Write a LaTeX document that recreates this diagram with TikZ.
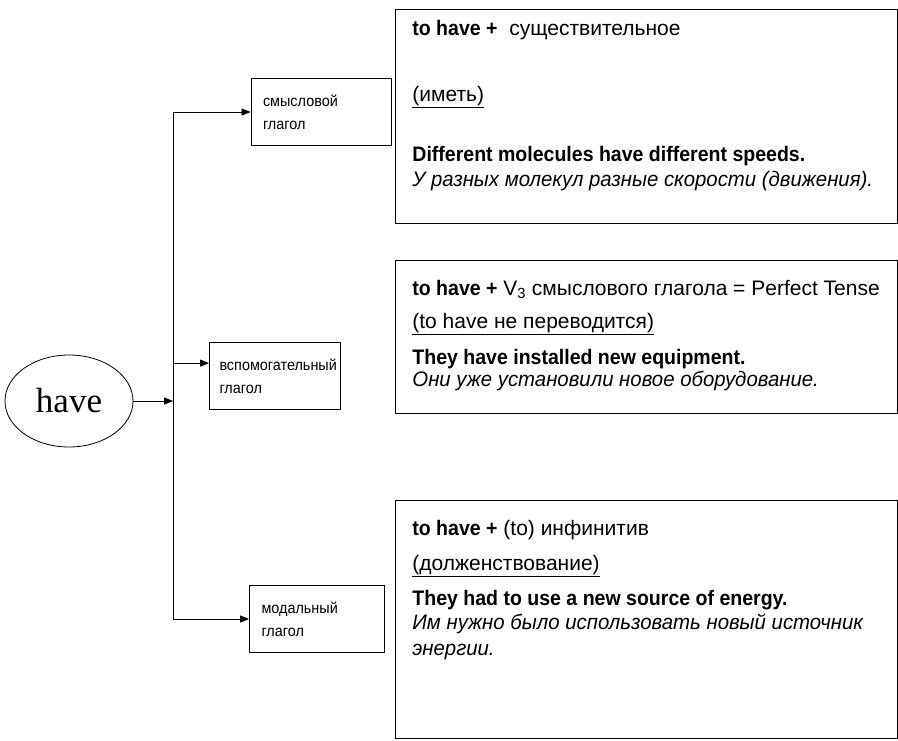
\documentclass[tikz,border=0pt]{standalone}
\usepackage{fontspec}
\setmainfont{Liberation Sans}[ItalicFeatures={FakeStretch=0.97},BoldFeatures={FakeStretch=0.93}]
\newfontfamily\boxfont{Liberation Sans}[FakeStretch=0.93]
\newfontfamily\serifhave{Liberation Serif}
\usetikzlibrary{shapes.geometric,arrows.meta}

\begin{document}
\begin{tikzpicture}[x=1pt,y=-1pt,line width=0.8pt,
        arr/.style={-{Triangle[length=9pt,width=7pt]}},
        smallbox/.style={draw,align=left,inner xsep=12pt,inner ysep=0pt,minimum height=67pt,font=\boxfont\fontsize{15.5}{23}\selectfont},
        bigbox/.style={draw,minimum width=502pt,inner sep=0pt},
        txt/.style={anchor=mid west,inner sep=0pt,font=\fontsize{21}{25}\selectfont}]
        \useasboundingbox (0,0) rectangle (898,740);
        \node[draw,ellipse,minimum width=128pt,minimum height=92pt,font=\serifhave\fontsize{35}{40}\selectfont] (have) at (69,401) {have};
        \coordinate (spine) at (173,402);
        \node[smallbox,text width=116pt] (meaning) at (321,112) {смысловой\\глагол};
        \node[smallbox,text width=111pt,inner xsep=10pt] (aux) at (275,376) {вспомогательный\\глагол};
        \node[smallbox,text width=111pt] (modal) at (317,619) {модальный\\глагол};
        \coordinate (auxin) at ([yshift=-21pt]aux.north west);
        \draw (spine |- meaning.west) -- (spine |- modal.west);
        \draw[arr] (have.east) -- (spine |- have.east);
        \draw[arr] (spine |- meaning.west) -- (meaning.west);
        \draw[arr] (spine |- auxin) -- (auxin);
        \draw[arr] (spine |- modal.west) -- (modal.west);
        % boxes on the right
        \node[bigbox,minimum height=214pt] (meaningbox) at (646,116) {};
        \node[bigbox,minimum height=153pt] (auxbox) at (646,336.5) {};
        \node[bigbox,minimum height=238pt] (modalbox) at (646,619) {};
        \node[txt] (meaning1) at (412,33) {\textbf{to have +}\ \ существительное};
        \node[txt] (meaning2) at (412,99) {\underline{(иметь)}};
        \node[txt] (meaning3) at (412,159) {\textbf{Different molecules have different speeds.}};
        \node[txt] (meaning4) at (412,184) {\textit{У разных молекул разные скорости (движения).}};
        \node[txt] (aux1) at (412,293) {\textbf{to have +} V\textsubscript{3} смыслового глагола = Perfect Tense};
        \node[txt] (aux2) at (412,326) {\underline{(to have не переводится)}};
        \node[txt] (aux3) at (412,362) {\textbf{They have installed new equipment.}};
        \node[txt] (aux4) at (412,384) {\textit{Они уже установили новое оборудование.}};
        \node[txt] (modal1) at (412,533) {\textbf{to have +} (to) инфинитив};
        \node[txt] (modal2) at (412,568) {\underline{(долженствование)}};
        \node[txt] (modal3) at (412,603) {\textbf{They had to use a new source of energy.}};
        \node[txt] (modal4) at (412,627) {\textit{Им нужно было использовать новый источник}};
        \node[txt] (modal5) at (412,653) {\textit{энергии.}};
\end{tikzpicture}
\end{document}
